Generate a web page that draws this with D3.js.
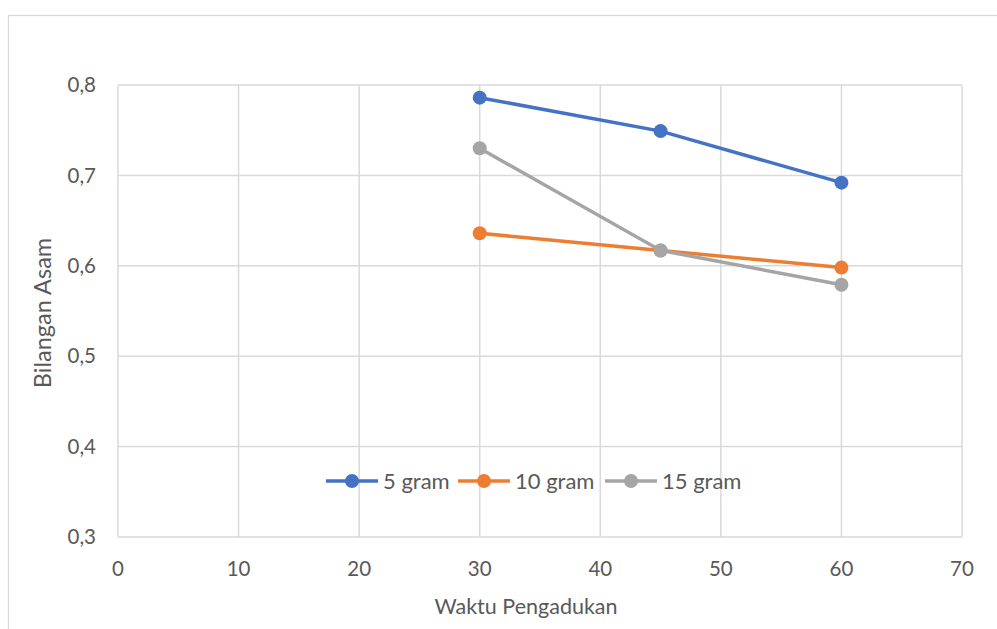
<!DOCTYPE html>
<html>
<head>
<meta charset="utf-8">
<script src="https://cdn.jsdelivr.net/npm/d3@7"></script>
<style>
  body { margin: 0; background: #fff; }
  text { font-family: Lato, "Open Sans", sans-serif; fill: #595959; }
</style>
</head>
<body>
<div id="chart"></div>
<script>
var waktu = [30, 45, 60]
var seriesNames = ['5 gram', '10 gram', '15 gram']
var gram5 = [0.786, 0.749, 0.692]
var gram10 = [0.636, 0.617, 0.598]
var gram15 = [0.730, 0.617, 0.579]
var xTicks = [0, 10, 20, 30, 40, 50, 60, 70]
var yTicks = [0.3, 0.4, 0.5, 0.6, 0.7, 0.8]
var colors = ['#4472c4', '#ed7d31', '#a5a5a5']

var W = 997, H = 629
var margin = {top: 85, right: 35, bottom: 92, left: 118},
    width = W - margin.left - margin.right,
    height = H - margin.top - margin.bottom

var svg = d3.select("#chart").append("svg")
    .attr("width", W)
    .attr("height", H)

// chart border
svg.append("rect")
    .attr("x", 8.5).attr("y", 15.5)
    .attr("width", 1000).attr("height", 700)
    .attr("fill", "none")
    .attr("stroke", "#d9d9d9")
    .attr("stroke-width", 1.3)

var g = svg.append("g")
    .attr("transform", "translate(" + margin.left + "," + margin.top + ")")

var x = d3.scaleLinear().domain([0, 70]).range([0, width])
var y = d3.scaleLinear().domain([0.3, 0.8]).range([height, 0])

// gridlines
g.selectAll(".vgrid").data(xTicks).enter()
  .append("line")
    .attr("x1", function(d){ return x(d) }).attr("x2", function(d){ return x(d) })
    .attr("y1", 0).attr("y2", height)
    .attr("stroke", "#d9d9d9").attr("stroke-width", 1.5)

g.selectAll(".hgrid").data(yTicks).enter()
  .append("line")
    .attr("x1", 0).attr("x2", width)
    .attr("y1", function(d){ return y(d) }).attr("y2", function(d){ return y(d) })
    .attr("stroke", "#d9d9d9").attr("stroke-width", 1.5)

// tick labels
var fmt = function(d){ return d3.format(".1f")(d).replace(".", ",") }

g.selectAll(".ylab").data(yTicks).enter()
  .append("text")
    .attr("x", -22)
    .attr("y", function(d){ return y(d) })
    .attr("dy", "0.35em")
    .attr("text-anchor", "end")
    .attr("font-size", "20.5px")
    .text(fmt)

g.selectAll(".xlab").data(xTicks).enter()
  .append("text")
    .attr("x", function(d){ return x(d) })
    .attr("y", height + 39)
    .attr("text-anchor", "middle")
    .attr("font-size", "20.5px")
    .text(function(d){ return d })

// axis titles
svg.append("text")
    .attr("x", 526).attr("y", 614)
    .attr("text-anchor", "middle")
    .attr("font-size", "21.5px")
    .text("Waktu Pengadukan")

svg.append("text")
    .attr("transform", "translate(51," + (margin.top + height / 2 + 2) + ") rotate(-90)")
    .attr("text-anchor", "middle")
    .attr("font-size", "23.5px")
    .text("Bilangan Asam")

// series
var allSeries = [gram5, gram10, gram15]
var line = d3.line()
    .x(function(d, i){ return x(waktu[i]) })
    .y(function(d){ return y(d) })

allSeries.forEach(function(vals, s) {
  g.append("path")
    .datum(vals)
    .attr("d", line)
    .attr("fill", "none")
    .attr("stroke", colors[s])
    .attr("stroke-width", 3.5)
    .attr("stroke-linecap", "round")
  g.selectAll(".pt" + s).data(vals).enter()
    .append("circle")
      .attr("cx", function(d, i){ return x(waktu[i]) })
      .attr("cy", function(d){ return y(d) })
      .attr("r", 7)
      .attr("fill", colors[s])
})

// legend
var legendX = [326, 458, 605]
var legend = svg.selectAll(".legends").data(seriesNames).enter()
  .append("g")
    .attr("transform", function(d, i){ return "translate(" + legendX[i] + ",481)" })

legend.append("line")
    .attr("x1", 0).attr("x2", 52).attr("y1", 0).attr("y2", 0)
    .attr("stroke", function(d, i){ return colors[i] })
    .attr("stroke-width", 3.5)
legend.append("circle")
    .attr("cx", 26).attr("cy", 0).attr("r", 7)
    .attr("fill", function(d, i){ return colors[i] })
legend.append("text")
    .attr("x", 57).attr("y", 0).attr("dy", "0.35em")
    .attr("font-size", "22px")
    .text(function(d){ return d })
</script>
</body>
</html>
